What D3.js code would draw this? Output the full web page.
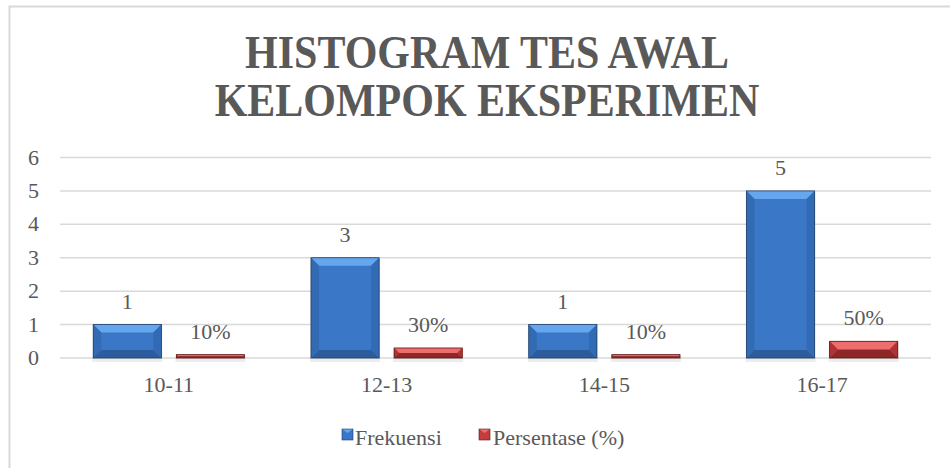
<!DOCTYPE html>
<html>
<head>
<meta charset="utf-8">
<script src="https://cdn.jsdelivr.net/npm/d3@7/dist/d3.min.js"></script>
<style>
  html, body { margin: 0; padding: 0; background: #fff; }
  svg { display: block; }
</style>
</head>
<body>
<svg id="chart" width="950" height="468"></svg>
<script>
const titleLines = ["HISTOGRAM TES AWAL", "KELOMPOK EKSPERIMEN"];
const categories = ["10-11", "12-13", "14-15", "16-17"];
const seriesNames = ["Frekuensi", "Persentase (%)"];
const frekuensi = [1, 3, 1, 5];
const persentase = [0.1, 0.3, 0.1, 0.5];
const persentaseLabels = ["10%", "30%", "10%", "50%"];
const yTicks = [0, 1, 2, 3, 4, 5, 6];

const FONT = "Liberation Serif";
const TXT = "#595959";
const svg = d3.select("#chart");

// outer border (chart area frame)
svg.append("rect").attr("x", 9.5).attr("y", 6.5).attr("width", 960).attr("height", 480)
  .attr("fill", "#fff").attr("stroke", "#d9d9d9").attr("stroke-width", 2);

// title (slightly condensed look, as in the reference)
titleLines.forEach((t, i) => {
  const by = 68 + i * 48;
  svg.append("text")
    .attr("transform", `translate(487,${by}) scale(1,1.12)`)
    .attr("x", 0).attr("y", 0)
    .attr("font-family", FONT).attr("font-size", 42).attr("font-weight", "bold").attr("fill", TXT)
    .attr("text-anchor", "middle")
    .text(t);
});

const plot = { left: 60, right: 931, top: 157.5, bottom: 358 };
const x = d3.scaleBand().domain(categories).range([plot.left, plot.right]).paddingInner(0).paddingOuter(0);
const x1 = d3.scaleBand().domain(seriesNames).range([0, x.bandwidth()]).paddingInner(0.18).paddingOuter(0.4);
const y = d3.scaleLinear().domain([0, 6]).range([plot.bottom, plot.top]);

// gridlines
svg.append("g").selectAll("line").data(yTicks).enter().append("line")
  .attr("x1", plot.left).attr("x2", plot.right)
  .attr("y1", d => y(d)).attr("y2", d => y(d))
  .attr("stroke", "#d9d9d9").attr("stroke-width", 1.5);

// y tick labels
yTicks.forEach(d => {
  svg.append("text").attr("x", 39).attr("y", y(d) + 7)
    .attr("font-family", FONT).attr("font-size", 22).attr("fill", TXT)
    .attr("text-anchor", "end").text(String(d));
});

// x tick labels
categories.forEach(c => {
  svg.append("text").attr("x", x(c) + x.bandwidth() / 2).attr("y", plot.bottom + 34)
    .attr("font-family", FONT).attr("font-size", 22).attr("fill", TXT)
    .attr("text-anchor", "middle").text(c);
});

const palettes = {
  "Frekuensi": { main: "#3a77c6", top: "#66a6ee", side: "#326bb4", bottom: "#2c5c9c", stroke: "#1f3f6a" },
  "Persentase (%)": { main: "#c43c3c", top: "#ee6e6e", side: "#b03434", bottom: "#8e2828", stroke: "#5a1818" }
};

function drawBevelBar(g, bx, by, bw, bh, pal) {
  const grp = g.append("g");
  grp.append("rect").attr("x", bx - 1).attr("y", by + 1).attr("width", bw + 2).attr("height", bh + 3)
    .attr("fill", "#000").attr("opacity", 0.07);
  grp.append("rect").attr("x", bx).attr("y", by).attr("width", bw).attr("height", bh).attr("fill", pal.main);
  const b = Math.min(8, bh / 2);
  const pts = arr => arr.map(p => p.join(",")).join(" ");
  grp.append("polygon").attr("points", pts([[bx, by], [bx + bw, by], [bx + bw - b, by + b], [bx + b, by + b]])).attr("fill", pal.top);
  grp.append("polygon").attr("points", pts([[bx, by + bh], [bx + bw, by + bh], [bx + bw - b, by + bh - b], [bx + b, by + bh - b]])).attr("fill", pal.bottom);
  grp.append("polygon").attr("points", pts([[bx, by], [bx + b, by + b], [bx + b, by + bh - b], [bx, by + bh]])).attr("fill", pal.side);
  grp.append("polygon").attr("points", pts([[bx + bw, by], [bx + bw - b, by + b], [bx + bw - b, by + bh - b], [bx + bw, by + bh]])).attr("fill", pal.side);
  grp.append("rect").attr("x", bx).attr("y", by).attr("width", bw).attr("height", bh)
    .attr("fill", "none").attr("stroke", pal.stroke).attr("stroke-width", 0.8);
}

const series = [
  { name: "Frekuensi", values: frekuensi, labels: frekuensi.map(String) },
  { name: "Persentase (%)", values: persentase, labels: persentaseLabels }
];

const barsG = svg.append("g");
series.forEach(s => {
  categories.forEach((c, i) => {
    const bx = x(c) + x1(s.name);
    const bw = x1.bandwidth();
    const by = y(s.values[i]);
    const bh = y(0) - by;
    drawBevelBar(barsG, bx, by, bw, bh, palettes[s.name]);
    svg.append("text").attr("x", bx + bw / 2).attr("y", by - 16)
      .attr("font-family", FONT).attr("font-size", 22).attr("fill", TXT)
      .attr("text-anchor", "middle")
      .text(s.labels[i]);
  });
});

// legend
const legendItems = [
  { name: "Frekuensi", sx: 342, tx: 355 },
  { name: "Persentase (%)", sx: 479, tx: 493 }
];
legendItems.forEach(it => {
  const pal = palettes[it.name];
  const s = 11, sy = 429;
  svg.append("rect").attr("x", it.sx).attr("y", sy).attr("width", s).attr("height", s).attr("fill", pal.main);
  svg.append("polygon").attr("points", `${it.sx},${sy} ${it.sx + s},${sy} ${it.sx + s / 2},${sy + 4}`).attr("fill", pal.top);
  svg.append("rect").attr("x", it.sx).attr("y", sy).attr("width", s).attr("height", s).attr("fill", "none").attr("stroke", pal.stroke).attr("stroke-width", 0.6);
  svg.append("text").attr("x", it.tx).attr("y", 445)
    .attr("font-family", FONT).attr("font-size", 22).attr("fill", TXT).text(it.name);
});
</script>
</body>
</html>
